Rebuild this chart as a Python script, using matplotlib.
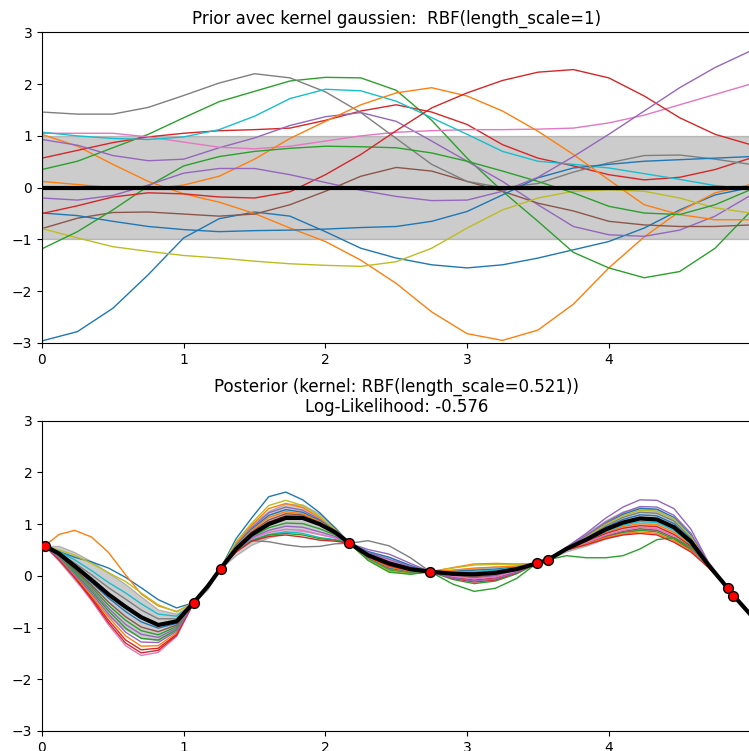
import matplotlib
matplotlib.use("Agg")
import matplotlib.pyplot as plt
import numpy as np

# ---- prior panel: values read at x = 0, 0.25, ..., 5 ----------------------
x_prior = [0.0, 0.25, 0.5, 0.75, 1.0, 1.25, 1.5, 1.75, 2.0, 2.25, 2.5,
           2.75, 3.0, 3.25, 3.5, 3.75, 4.0, 4.25, 4.5, 4.75, 5.0]
prior_mean = [0.0] * 21
prior_std = [1.0] * 21

prior_blue_a = [-2.96, -2.78, -2.33, -1.68, -0.97, -0.6, -0.47, -0.55, -0.85, -1.17, -1.36,
                -1.49, -1.55, -1.49, -1.36, -1.2, -1.04, -0.78, -0.43, -0.14, 0.0]
prior_orange_a = [1.03, 0.8, 0.45, 0.12, -0.12, -0.28, -0.5, -0.78, -1.04, -1.4, -1.85,
                  -2.4, -2.82, -2.95, -2.75, -2.25, -1.55, -0.95, -0.46, -0.1, 0.06]
prior_green_a = [0.35, 0.51, 0.77, 1.03, 1.35, 1.66, 1.86, 2.06, 2.13, 2.12, 1.88,
                 1.3, 0.57, -0.07, -0.65, -1.25, -1.55, -1.74, -1.62, -1.17, -0.46]
prior_red_a = [0.57, 0.72, 0.87, 0.98, 1.05, 1.1, 1.12, 1.15, 1.3, 1.48, 1.6,
               1.46, 1.22, 0.83, 0.57, 0.42, 0.25, 0.15, 0.2, 0.35, 0.57]
prior_purple_a = [0.93, 0.82, 0.62, 0.52, 0.55, 0.77, 0.96, 1.2, 1.37, 1.45, 1.28,
                  0.9, 0.51, 0.12, -0.33, -0.75, -0.91, -0.94, -0.82, -0.55, -0.15]
prior_brown = [-0.79, -0.59, -0.48, -0.47, -0.51, -0.55, -0.51, -0.33, -0.07, 0.22, 0.39,
               0.32, 0.12, -0.07, -0.3, -0.45, -0.65, -0.72, -0.75, -0.75, -0.72]
prior_pink = [1.05, 1.05, 1.05, 0.98, 0.88, 0.78, 0.75, 0.8, 0.9, 1.0, 1.07,
              1.1, 1.12, 1.12, 1.13, 1.15, 1.25, 1.4, 1.6, 1.8, 2.0]
prior_gray = [1.46, 1.42, 1.42, 1.55, 1.78, 2.02, 2.2, 2.12, 1.85, 1.45, 0.95,
              0.45, 0.12, 0.0, 0.08, 0.3, 0.48, 0.62, 0.63, 0.55, 0.45]
prior_olive = [-0.79, -0.97, -1.14, -1.23, -1.31, -1.36, -1.42, -1.47, -1.5, -1.52, -1.43,
               -1.17, -0.78, -0.43, -0.2, -0.07, -0.04, -0.07, -0.2, -0.39, -0.49]
prior_cyan = [1.07, 1.0, 0.95, 0.93, 0.98, 1.12, 1.38, 1.72, 1.9, 1.87, 1.67,
              1.35, 1.03, 0.7, 0.51, 0.45, 0.38, 0.27, 0.16, 0.04, -0.03]
prior_blue_b = [-0.49, -0.54, -0.65, -0.75, -0.81, -0.85, -0.83, -0.82, -0.8, -0.77, -0.75,
                -0.65, -0.46, -0.14, 0.19, 0.38, 0.45, 0.51, 0.54, 0.57, 0.6]
prior_orange_b = [0.12, 0.06, 0.0, -0.03, 0.05, 0.22, 0.55, 0.95, 1.28, 1.6, 1.83,
                  1.93, 1.77, 1.48, 1.09, 0.64, 0.15, -0.33, -0.52, -0.62, -0.62]
prior_green_b = [-1.18, -0.85, -0.43, 0.03, 0.42, 0.6, 0.7, 0.76, 0.8, 0.79, 0.77,
                 0.67, 0.51, 0.32, 0.12, -0.1, -0.36, -0.49, -0.52, -0.33, -0.04]
prior_red_b = [-0.5, -0.35, -0.18, -0.1, -0.12, -0.18, -0.2, -0.08, 0.25, 0.64, 1.1,
               1.54, 1.83, 2.07, 2.23, 2.28, 2.12, 1.77, 1.35, 1.03, 0.83]
prior_purple_b = [-0.2, -0.24, -0.15, 0.05, 0.28, 0.37, 0.37, 0.25, 0.1, -0.05, -0.17,
                  -0.25, -0.24, -0.07, 0.2, 0.6, 1.03, 1.48, 1.93, 2.32, 2.64]

prior_samples = [prior_blue_a, prior_orange_a, prior_green_a, prior_red_a, prior_purple_a,
                 prior_brown, prior_pink, prior_gray, prior_olive, prior_cyan,
                 prior_blue_b, prior_orange_b, prior_green_b, prior_red_b, prior_purple_b]

# ---- posterior panel -------------------------------------------------------
x_post = [0.0, 0.02, 0.12, 0.23, 0.35, 0.47, 0.59, 0.7, 0.82, 0.95,
          1.07, 1.17, 1.26, 1.37, 1.48, 1.6, 1.72, 1.84, 1.96, 2.07,
          2.17, 2.3, 2.45, 2.6, 2.74, 2.9, 3.05, 3.2, 3.35, 3.49,
          3.57, 3.7, 3.84, 3.98, 4.1, 4.22, 4.34, 4.46, 4.58, 4.7,
          4.84, 4.88, 5.0]
post_mean = [0.60, 0.58, 0.43, 0.19, -0.08, -0.36, -0.60, -0.80, -0.95, -0.88,
             -0.52, -0.20, 0.14, 0.52, 0.80, 1.00, 1.12, 1.12, 1.00, 0.84,
             0.63, 0.40, 0.24, 0.13, 0.08, 0.04, 0.03, 0.06, 0.13, 0.24,
             0.31, 0.52, 0.70, 0.90, 1.03, 1.11, 1.09, 0.94, 0.66, 0.22,
             -0.24, -0.38, -0.75]
post_std = [0.02, 0.0, 0.15, 0.27, 0.36, 0.42, 0.44, 0.4, 0.3, 0.15,
            0.0, 0.06, 0.0, 0.12, 0.2, 0.26, 0.28, 0.26, 0.2, 0.1,
            0.0, 0.08, 0.12, 0.08, 0.0, 0.08, 0.12, 0.12, 0.07, 0.0,
            0.0, 0.05, 0.12, 0.18, 0.22, 0.22, 0.2, 0.15, 0.08, 0.02,
            0.0, 0.0, 0.02]

post_blue_a = [0.60, 0.58, 0.47, 0.36, 0.27, 0.15, -0.03, -0.23, -0.46, -0.62,
               -0.52, -0.18, 0.14, 0.72, 1.12, 1.53, 1.62, 1.47, 1.22, 0.92,
               0.63, 0.47, 0.36, 0.20, 0.08, 0.09, 0.11, 0.13, 0.17, 0.24,
               0.31, 0.54, 0.76, 1.02, 1.19, 1.30, 1.29, 1.13, 0.79, 0.25,
               -0.24, -0.38, -0.76]
post_orange_a = [0.56, 0.58, 0.80, 0.88, 0.75, 0.45, 0.02, -0.35, -0.58, -0.69,
                 -0.52, -0.19, 0.14, 0.63, 0.98, 1.30, 1.40, 1.32, 1.12, 0.88,
                 0.63, 0.33, 0.13, 0.06, 0.08, 0.16, 0.23, 0.24, 0.23, 0.24,
                 0.31, 0.51, 0.67, 0.84, 0.95, 1.01, 0.99, 0.84, 0.59, 0.20,
                 -0.24, -0.38, -0.74]
post_green_a = [0.61, 0.58, 0.38, 0.11, -0.22, -0.57, -0.86, -1.06, -1.14, -0.98,
                -0.52, -0.21, 0.14, 0.50, 0.76, 0.93, 1.02, 1.01, 0.91, 0.79,
                0.63, 0.32, 0.11, 0.05, 0.08, -0.07, -0.15, -0.10, 0.04, 0.24,
                0.31, 0.50, 0.62, 0.76, 0.84, 0.88, 0.85, 0.71, 0.50, 0.18,
                -0.24, -0.38, -0.74]
post_red_a = [0.62, 0.58, 0.32, -0.01, -0.42, -0.86, -1.24, -1.43, -1.40, -1.13,
              -0.52, -0.22, 0.14, 0.54, 0.83, 1.04, 1.16, 1.15, 1.02, 0.85,
              0.63, 0.40, 0.24, 0.13, 0.08, -0.03, -0.08, -0.04, 0.08, 0.24,
              0.31, 0.51, 0.66, 0.82, 0.92, 0.97, 0.95, 0.80, 0.57, 0.20,
              -0.24, -0.38, -0.75]
post_purple_a = [0.61, 0.58, 0.37, 0.08, -0.26, -0.63, -0.94, -1.13, -1.19, -1.01,
                 -0.52, -0.21, 0.14, 0.60, 0.93, 1.22, 1.33, 1.27, 1.09, 0.87,
                 0.63, 0.51, 0.42, 0.24, 0.08, 0.00, -0.04, 0.00, 0.10, 0.24,
                 0.31, 0.55, 0.82, 1.12, 1.33, 1.47, 1.46, 1.30, 0.90, 0.28,
                 -0.24, -0.38, -0.77]
post_brown = [0.61, 0.58, 0.40, 0.13, -0.18, -0.51, -0.79, -0.99, -1.08, -0.95,
              -0.52, -0.20, 0.14, 0.55, 0.85, 1.08, 1.20, 1.18, 1.04, 0.85,
              0.63, 0.42, 0.27, 0.15, 0.08, 0.01, -0.02, 0.02, 0.11, 0.24,
              0.31, 0.50, 0.63, 0.77, 0.86, 0.91, 0.88, 0.74, 0.52, 0.19,
              -0.24, -0.38, -0.75]
post_pink = [0.63, 0.58, 0.30, -0.05, -0.48, -0.95, -1.35, -1.54, -1.48, -1.17,
             -0.52, -0.23, 0.14, 0.48, 0.72, 0.84, 0.90, 0.88, 0.80, 0.73,
             0.63, 0.43, 0.29, 0.16, 0.08, -0.01, -0.06, -0.02, 0.09, 0.24,
             0.31, 0.51, 0.64, 0.79, 0.88, 0.94, 0.91, 0.77, 0.54, 0.19,
             -0.24, -0.38, -0.75]
post_gray = [0.60, 0.58, 0.45, 0.25, 0.02, -0.23, -0.45, -0.66, -0.83, -0.83,
             -0.52, -0.20, 0.14, 0.50, 0.68, 0.66, 0.60, 0.56, 0.57, 0.62,
             0.63, 0.68, 0.58, 0.35, 0.08, 0.03, 0.01, 0.04, 0.12, 0.24,
             0.31, 0.53, 0.74, 0.97, 1.13, 1.23, 1.21, 1.06, 0.74, 0.24,
             -0.24, -0.38, -0.75]
post_olive = [0.59, 0.58, 0.50, 0.40, 0.24, 0.06, -0.11, -0.33, -0.56, -0.70,
              -0.52, -0.18, 0.14, 0.66, 1.02, 1.36, 1.46, 1.36, 1.15, 0.89,
              0.63, 0.31, 0.09, 0.04, 0.08, 0.15, 0.21, 0.22, 0.22, 0.24,
              0.31, 0.53, 0.75, 1.00, 1.16, 1.27, 1.25, 1.10, 0.76, 0.25,
              -0.24, -0.38, -0.75]
post_cyan = [0.60, 0.58, 0.47, 0.31, 0.10, -0.13, -0.33, -0.54, -0.74, -0.78,
             -0.52, -0.19, 0.14, 0.47, 0.69, 0.80, 0.85, 0.82, 0.74, 0.70,
             0.63, 0.38, 0.21, 0.11, 0.08, 0.07, 0.08, 0.11, 0.16, 0.24,
             0.31, 0.52, 0.68, 0.86, 0.98, 1.05, 1.03, 0.88, 0.62, 0.21,
             -0.24, -0.38, -0.75]
post_blue_b = [0.61, 0.58, 0.41, 0.16, -0.13, -0.43, -0.69, -0.89, -1.01, -0.92,
               -0.52, -0.20, 0.14, 0.58, 0.90, 1.17, 1.28, 1.23, 1.07, 0.87,
               0.63, 0.35, 0.15, 0.08, 0.08, 0.05, 0.05, 0.08, 0.14, 0.24,
               0.31, 0.53, 0.72, 0.94, 1.09, 1.18, 1.16, 1.01, 0.71, 0.23,
               -0.24, -0.38, -0.75]
post_orange_b = [0.62, 0.58, 0.33, 0.01, -0.38, -0.80, -1.16, -1.36, -1.35, -1.10,
                 -0.52, -0.22, 0.14, 0.57, 0.88, 1.13, 1.24, 1.20, 1.05, 0.86,
                 0.63, 0.36, 0.17, 0.09, 0.08, 0.11, 0.15, 0.17, 0.19, 0.24,
                 0.31, 0.50, 0.61, 0.74, 0.81, 0.85, 0.82, 0.68, 0.48, 0.18,
                 -0.24, -0.38, -0.74]
post_green_b = [0.62, 0.58, 0.36, 0.06, -0.30, -0.68, -1.01, -1.21, -1.24, -1.04,
                -0.52, -0.21, 0.14, 0.47, 0.68, 0.79, 0.82, 0.79, 0.72, 0.69,
                0.63, 0.30, 0.07, 0.03, 0.08, -0.16, -0.30, -0.24, -0.05, 0.24,
                0.31, 0.39, 0.35, 0.35, 0.39, 0.52, 0.70, 0.74, 0.55, 0.20,
                -0.24, -0.38, -0.73]
post_red_b = [0.63, 0.58, 0.31, -0.03, -0.45, -0.91, -1.30, -1.49, -1.44, -1.15,
              -0.52, -0.22, 0.14, 0.46, 0.67, 0.76, 0.79, 0.75, 0.69, 0.67,
              0.63, 0.37, 0.19, 0.10, 0.08, -0.05, -0.12, -0.08, 0.06, 0.24,
              0.31, 0.50, 0.60, 0.72, 0.79, 0.82, 0.79, 0.65, 0.46, 0.17,
              -0.24, -0.38, -0.74]
post_purple_b = [0.62, 0.58, 0.35, 0.03, -0.34, -0.74, -1.09, -1.28, -1.29, -1.07,
                 -0.52, -0.21, 0.14, 0.49, 0.74, 0.88, 0.96, 0.94, 0.85, 0.76,
                 0.63, 0.45, 0.32, 0.18, 0.08, -0.04, -0.10, -0.06, 0.07, 0.24,
                 0.31, 0.54, 0.78, 1.04, 1.22, 1.34, 1.33, 1.17, 0.82, 0.26,
                 -0.24, -0.38, -0.76]

post_samples = [post_blue_a, post_orange_a, post_green_a, post_red_a, post_purple_a,
                post_brown, post_pink, post_gray, post_olive, post_cyan,
                post_blue_b, post_orange_b, post_green_b, post_red_b, post_purple_b]

x_train = [0.02, 1.07, 1.26, 2.17, 2.74, 3.49, 3.57, 4.84, 4.88]
y_train = [0.58, -0.52, 0.14, 0.63, 0.08, 0.24, 0.31, -0.24, -0.38]

x_ticks = [0, 1, 2, 3, 4]
y_ticks = [-3, -2, -1, 0, 1, 2, 3]

colors = plt.rcParams["axes.prop_cycle"].by_key()["color"]

fig = plt.figure(figsize=(7.49, 7.51), dpi=100)
W, H = 749.0, 751.0


def panel(px_left, px_top, px_right, px_bottom):
    return fig.add_axes([px_left / W, 1 - px_bottom / H,
                         (px_right - px_left) / W, (px_bottom - px_top) / H])


def draw(ax, x, mean, std, samples):
    mean = np.asarray(mean)
    std = np.asarray(std)
    ax.plot(x, mean, "k", lw=3, zorder=9)
    ax.fill_between(x, mean - std, mean + std, alpha=0.2, color="k")
    for i, s in enumerate(samples):
        ax.plot(x, s, lw=1, color=colors[i % 10])
    ax.set_xlim(0, 5)
    ax.set_ylim(-3, 3)
    ax.set_xticks(x_ticks)
    ax.set_yticks(y_ticks)


# (a) prior
ax1 = panel(42, 32.3, 750.5, 343)
draw(ax1, x_prior, prior_mean, prior_std, prior_samples)
ax1.set_title("Prior avec kernel gaussien:  RBF(length_scale=1)", fontsize=12)

# (b) posterior
ax2 = panel(42, 420.7, 750.5, 731)
draw(ax2, x_post, post_mean, post_std, post_samples)
ax2.scatter(x_train, y_train, c="r", s=50, zorder=10, edgecolors=(0, 0, 0))
ax2.set_title("Posterior (kernel: RBF(length_scale=0.521))\nLog-Likelihood: -0.576",
              fontsize=12)

fig.savefig("out.png", dpi=100)
